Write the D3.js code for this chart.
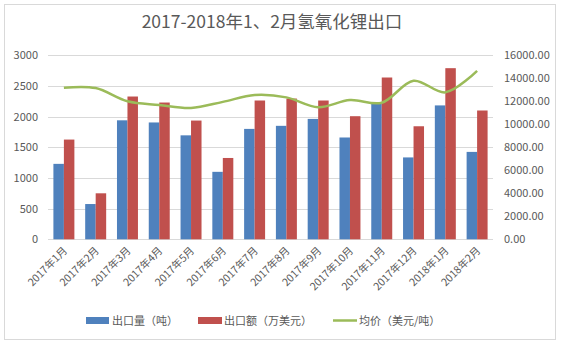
<!DOCTYPE html>
<html><head><meta charset="utf-8">
<script src="https://cdn.jsdelivr.net/npm/d3@7"></script>
<style>body{margin:0;background:#fff}svg{display:block}</style>
</head><body>
<svg id="c" width="562" height="344"></svg>
<script>
const categories = ["2017年1月","2017年2月","2017年3月","2017年4月","2017年5月","2017年6月","2017年7月","2017年8月","2017年9月","2017年10月","2017年11月","2017年12月","2018年1月","2018年2月"];
const volume = [1230, 575, 1940, 1905, 1695, 1100, 1800, 1850, 1963, 1660, 2210, 1335, 2183, 1425];
const amount = [1626, 750, 2328, 2230, 1936, 1326, 2263, 2295, 2263, 2007, 2638, 1843, 2790, 2100];
const price = [13180, 13150, 12000, 11680, 11420, 11950, 12540, 12340, 11480, 12110, 11880, 13790, 12780, 14650];
const leftTicks = [0, 500, 1000, 1500, 2000, 2500, 3000];
const rightTicks = [0, 2000, 4000, 6000, 8000, 10000, 12000, 14000, 16000];
const seriesNames = ["出口量（吨）", "出口额（万美元）", "均价（美元/吨）"];
const title = "2017-2018年1、2月氢氧化锂出口";
const colors = {blue:"#4F81BD", red:"#C0504D", green:"#9BBB59"};

const svg = d3.select("#c");
const font = "'Noto Sans CJK SC', 'Noto Sans', sans-serif";
svg.append("rect").attr("x",4.5).attr("y",4.5).attr("width",551).attr("height",335)
  .attr("fill","#fff").attr("stroke","#d9d9d9");

const L = 48, R = 493, T = 55.3, B = 239.3;
const x = d3.scaleBand().domain(categories).range([L, R]).paddingInner(0.34).paddingOuter(0.17);
const x1 = d3.scaleBand().domain([0,1]).range([0, x.bandwidth()]);
const yL = d3.scaleLinear().domain([0, 3000]).range([B, T]);
const yR = d3.scaleLinear().domain([0, 16000]).range([B, T]);

svg.append("text").attr("x", 272).attr("y", 28).attr("text-anchor","middle")
  .attr("font-family", font).attr("font-size", 17.5).attr("fill","#595959").text(title);

// grid
svg.append("g").selectAll("line").data(leftTicks).join("line")
  .attr("x1", L).attr("x2", R).attr("y1", d=>Math.round(yL(d))+0.5).attr("y2", d=>Math.round(yL(d))+0.5)
  .attr("stroke","#d9d9d9").attr("stroke-width",1);

// left axis
const gl = svg.append("g").attr("transform",`translate(${L},0)`)
  .call(d3.axisLeft(yL).tickValues(leftTicks).tickSize(0).tickPadding(10).tickFormat(d3.format("d")));
gl.select(".domain").remove();
gl.selectAll("text").attr("font-family", font).attr("font-size", 11).attr("fill","#595959");

// right axis
const gr = svg.append("g").attr("transform",`translate(${R},0)`)
  .call(d3.axisRight(yR).tickValues(rightTicks).tickSize(0).tickPadding(11).tickFormat(d3.format(".2f")));
gr.select(".domain").remove();
gr.selectAll("text").attr("font-family", font).attr("font-size", 11).attr("fill","#595959");

// bars
svg.append("g").selectAll("rect").data(volume).join("rect")
  .attr("x",(d,i)=>x(categories[i])+x1(0)).attr("width",x1.bandwidth())
  .attr("y",d=>yL(d)).attr("height",d=>B-yL(d)).attr("fill",colors.blue);
svg.append("g").selectAll("rect").data(amount).join("rect")
  .attr("x",(d,i)=>x(categories[i])+x1(1)).attr("width",x1.bandwidth())
  .attr("y",d=>yL(d)).attr("height",d=>B-yL(d)).attr("fill",colors.red);

// line
const line = d3.line().x((d,i)=>x(categories[i])+x.bandwidth()/2).y(d=>yR(d)).curve(d3.curveCatmullRom.alpha(0.5));
svg.append("path").datum(price).attr("d", line).attr("fill","none")
  .attr("stroke", colors.green).attr("stroke-width", 2.5);

// x labels
const gx = svg.append("g").attr("transform",`translate(0,${B})`)
  .call(d3.axisBottom(x).tickSize(0).tickPadding(0));
gx.select(".domain").remove();
gx.selectAll("text").attr("font-family", font).attr("font-size", 10.5).attr("fill","#595959")
  .attr("text-anchor","end").attr("dy",0)
  .attr("transform", function(){ return "translate(4,12) rotate(-45)"; });

// legend
const lg = svg.append("g").attr("font-family", font).attr("font-size", 11).attr("fill","#595959");
const lx = [86, 198, 333];
lg.append("rect").attr("x",lx[0]).attr("y",317).attr("width",23).attr("height",7).attr("fill",colors.blue);
lg.append("rect").attr("x",lx[1]).attr("y",317).attr("width",24).attr("height",7).attr("fill",colors.red);
lg.append("line").attr("x1",lx[2]).attr("x2",lx[2]+24).attr("y1",320.5).attr("y2",320.5).attr("stroke",colors.green).attr("stroke-width",2.5);
lg.selectAll("text").data(seriesNames).join("text")
  .attr("x",(d,i)=>lx[i]+26).attr("y",324.5).text(d=>d);
</script>
</body></html>
